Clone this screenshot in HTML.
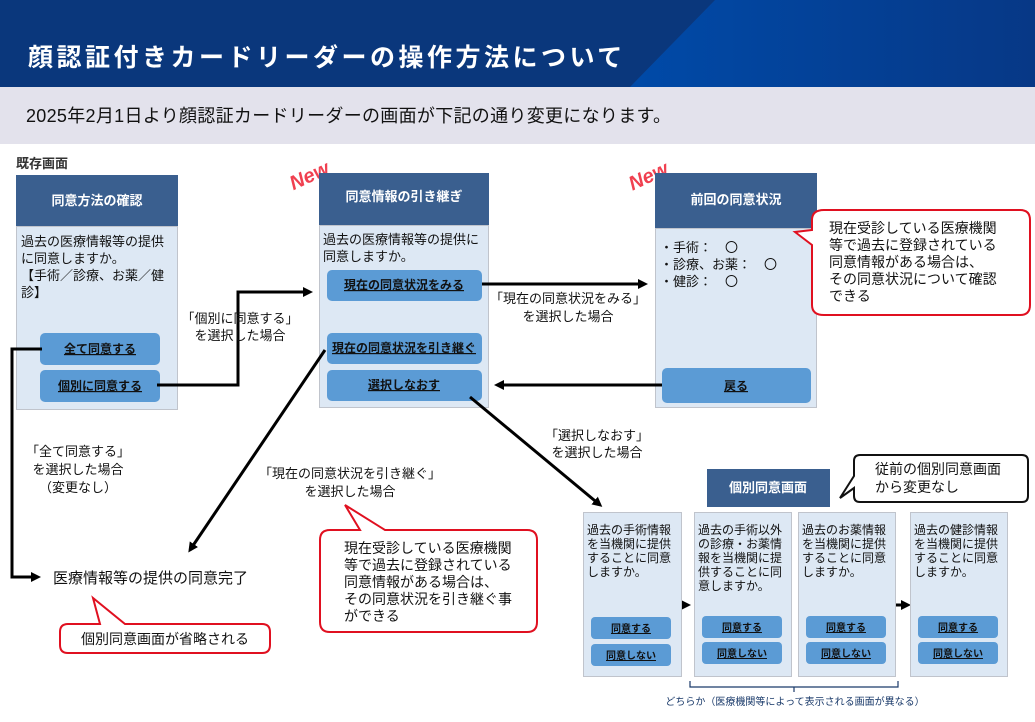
<!DOCTYPE html>
<html><head><meta charset="utf-8"><style>
html,body{margin:0;padding:0;background:#fff}
svg text{font-family:"Liberation Sans","Noto Sans CJK JP",sans-serif}
</style></head><body>
<svg width="1035" height="717" viewBox="0 0 1035 717" xmlns="http://www.w3.org/2000/svg">
<defs>
<marker id="ah" markerWidth="10" markerHeight="10" refX="7" refY="5" orient="auto" markerUnits="userSpaceOnUse">
<path d="M0,0 L10,5 L0,10 z" fill="#000"/></marker>
<linearGradient id="hg" x1="0" x2="1" y1="0" y2="0"><stop offset="0" stop-color="#004aa8"/><stop offset="1" stop-color="#073886"/></linearGradient>
</defs>
<!-- header -->
<rect x="0" y="0" width="1035" height="87" fill="#0a377c"/>
<polygon points="630,87 715,0 1035,0 1035,87" fill="url(#hg)"/>
<text x="28" y="66" font-size="25" font-weight="bold" fill="#fff" letter-spacing="3.5">顔認証付きカードリーダーの操作方法について</text>
<rect x="0" y="87" width="1035" height="57" fill="#e3e2ec"/>
<text x="26" y="122" font-size="18" fill="#111" letter-spacing="0.3">2025年2月1日より顔認証カードリーダーの画面が下記の通り変更になります。</text>
<text x="16" y="168" font-size="13" font-weight="bold" fill="#333">既存画面</text>
<text x="288" y="184" font-size="20" font-weight="bold" fill="#f04050" font-style="italic" transform="rotate(-25 305 175)">New</text>
<text x="627" y="184" font-size="20" font-weight="bold" fill="#f04050" font-style="italic" transform="rotate(-25 645 175)">New</text>

<!-- box1 -->
<rect x="16" y="175" width="162" height="51" fill="#3a5f8f"/>
<text x="97" y="205" font-size="13" font-weight="bold" fill="#fff" text-anchor="middle">同意方法の確認</text>
<rect x="16.5" y="226.5" width="161" height="183" fill="#dde8f4" stroke="#c0c4cc"/>
<g font-size="13" fill="#111"><text x="21" y="246">過去の医療情報等の提供</text><text x="21" y="263">に同意しますか。</text><text x="21" y="280">【手術／診療、お薬／健</text><text x="21" y="297">診】</text></g>
<rect x="40" y="333" width="120" height="32" rx="5" fill="#5b9bd5"/>
<text x="100" y="353" font-size="12" font-weight="bold" text-anchor="middle" text-decoration="underline" fill="#111">全て同意する</text>
<rect x="40" y="370" width="120" height="32" rx="5" fill="#5b9bd5"/>
<text x="100" y="390" font-size="12" font-weight="bold" text-anchor="middle" text-decoration="underline" fill="#111">個別に同意する</text>

<!-- box2 -->
<rect x="319" y="173" width="170" height="52" fill="#3a5f8f"/>
<text x="404" y="201" font-size="13" font-weight="bold" fill="#fff" text-anchor="middle">同意情報の引き継ぎ</text>
<rect x="319.5" y="225.5" width="169" height="182" fill="#dde8f4" stroke="#c0c4cc"/>
<g font-size="13" fill="#111"><text x="323" y="244">過去の医療情報等の提供に</text><text x="323" y="261">同意しますか。</text></g>
<rect x="327" y="270" width="155" height="31" rx="5" fill="#5b9bd5"/>
<text x="404" y="289" font-size="12" font-weight="bold" text-anchor="middle" text-decoration="underline" fill="#111">現在の同意状況をみる</text>
<rect x="327" y="333" width="155" height="31" rx="5" fill="#5b9bd5"/>
<text x="404" y="352" font-size="12" font-weight="bold" text-anchor="middle" text-decoration="underline" fill="#111">現在の同意状況を引き継ぐ</text>
<rect x="327" y="370" width="155" height="31" rx="5" fill="#5b9bd5"/>
<text x="404" y="389" font-size="12" font-weight="bold" text-anchor="middle" text-decoration="underline" fill="#111">選択しなおす</text>

<!-- box3 -->
<rect x="655" y="173" width="162" height="55" fill="#3a5f8f"/>
<text x="736" y="204" font-size="13" font-weight="bold" fill="#fff" text-anchor="middle">前回の同意状況</text>
<rect x="655.5" y="228.5" width="161" height="179" fill="#dde8f4" stroke="#c0c4cc"/>
<g font-size="13" fill="#111"><text x="660" y="252">・手術：　〇</text><text x="660" y="269">・診療、お薬：　〇</text><text x="660" y="286">・健診：　〇</text></g>
<rect x="662" y="368" width="149" height="35" rx="5" fill="#5b9bd5"/>
<text x="736" y="390" font-size="12" font-weight="bold" text-anchor="middle" text-decoration="underline" fill="#111">戻る</text>

<!-- red callout right -->
<path d="M824,210 H1020 Q1030,210 1030,220 V305 Q1030,315 1020,315 H824 Q812,315 812,305 V245 L795,232 L812,230 V220 Q812,210 824,210 z" fill="#fff" stroke="#e01020" stroke-width="2"/>
<g font-size="14" fill="#111"><text x="829" y="233">現在受診している医療機関</text><text x="829" y="250">等で過去に登録されている</text><text x="829" y="267">同意情報がある場合は、</text><text x="829" y="284">その同意状況について確認</text><text x="829" y="301">できる</text></g>

<!-- arrows -->
<g stroke="#000" stroke-width="3" fill="none">
<polyline points="157,385 238,385 238,292 310,292" marker-end="url(#ah)"/>
<line x1="482" y1="284" x2="645" y2="284" marker-end="url(#ah)"/>
<line x1="662" y1="385" x2="497" y2="385" marker-end="url(#ah)"/>
<line x1="470" y1="397" x2="600" y2="505" marker-end="url(#ah)"/>
<line x1="325" y1="350" x2="190" y2="550" marker-end="url(#ah)"/>
<polyline points="42,349 12,349 12,577 38,577" marker-end="url(#ah)"/>
<line x1="674" y1="605" x2="688" y2="605" marker-end="url(#ah)"/>
<line x1="893" y1="605" x2="908" y2="605" marker-end="url(#ah)"/>
</g>
<g font-size="13" fill="#111" text-anchor="middle">
<text x="240" y="323">「個別に同意する」</text><text x="240" y="340">を選択した場合</text>
<text x="568" y="303">「現在の同意状況をみる」</text><text x="568" y="321">を選択した場合</text>
<text x="597" y="440">「選択しなおす」</text><text x="597" y="457">を選択した場合</text>
<text x="350" y="478">「現在の同意状況を引き継ぐ」</text><text x="350" y="496">を選択した場合</text>
<text x="78" y="456">「全て同意する」</text><text x="78" y="474">を選択した場合</text><text x="78" y="492">（変更なし）</text>
</g>
<text x="53" y="583" font-size="15" fill="#111">医療情報等の提供の同意完了</text>

<!-- red callout bottom-left -->
<path d="M68,624 H100 L93,598 L125,624 H262 Q270,624 270,632 V645 Q270,653 262,653 H68 Q60,653 60,645 V632 Q60,624 68,624 z" fill="#fff" stroke="#e01020" stroke-width="2"/>
<text x="165" y="644" font-size="14" fill="#111" text-anchor="middle">個別同意画面が省略される</text>

<!-- red callout center -->
<path d="M330,530 H360 L345,505 L385,530 H527 Q537,530 537,540 V622 Q537,632 527,632 H330 Q320,632 320,622 V540 Q320,530 330,530 z" fill="#fff" stroke="#e01020" stroke-width="2"/>
<g font-size="14" fill="#111"><text x="344" y="553">現在受診している医療機関</text><text x="344" y="570">等で過去に登録されている</text><text x="344" y="587">同意情報がある場合は、</text><text x="344" y="604">その同意状況を引き継ぐ事</text><text x="344" y="621">ができる</text></g>

<!-- individual consent -->
<rect x="707" y="469" width="123" height="38" fill="#3a5f8f"/>
<text x="768" y="492" font-size="13" font-weight="bold" fill="#fff" text-anchor="middle">個別同意画面</text>
<path d="M860,455 H1022 Q1028,455 1028,461 V496 Q1028,502 1022,502 H860 Q854,502 854,496 V488 L840,498 L854,476 V461 Q854,455 860,455 z" fill="#fff" stroke="#111" stroke-width="2"/>
<g font-size="14" fill="#111"><text x="875" y="474">従前の個別同意画面</text><text x="875" y="492">から変更なし</text></g>

<g fill="#dde8f4" stroke="#c0c4cc">
<rect x="583.5" y="512.5" width="98" height="164"/>
<rect x="694.5" y="512.5" width="97" height="164"/>
<rect x="798.5" y="512.5" width="97" height="164"/>
<rect x="910.5" y="512.5" width="97" height="164"/>
</g>
<g font-size="12" fill="#111">
<text x="587" y="534">過去の手術情報</text><text x="587" y="548">を当機関に提供</text><text x="587" y="562">することに同意</text><text x="587" y="576">しますか。</text>
<text x="698" y="534">過去の手術以外</text><text x="698" y="548">の診療・お薬情</text><text x="698" y="562">報を当機関に提</text><text x="698" y="576">供することに同</text><text x="698" y="590">意しますか。</text>
<text x="802" y="534">過去のお薬情報</text><text x="802" y="548">を当機関に提供</text><text x="802" y="562">することに同意</text><text x="802" y="576">しますか。</text>
<text x="914" y="534">過去の健診情報</text><text x="914" y="548">を当機関に提供</text><text x="914" y="562">することに同意</text><text x="914" y="576">しますか。</text>
</g>
<g fill="#5b9bd5">
<rect x="591" y="617" width="80" height="22" rx="4"/><rect x="591" y="644" width="80" height="22" rx="4"/>
<rect x="702" y="616" width="80" height="22" rx="4"/><rect x="702" y="642" width="80" height="22" rx="4"/>
<rect x="806" y="616" width="80" height="22" rx="4"/><rect x="806" y="642" width="80" height="22" rx="4"/>
<rect x="918" y="616" width="80" height="22" rx="4"/><rect x="918" y="642" width="80" height="22" rx="4"/>
</g>
<g font-size="10" font-weight="bold" fill="#111" text-anchor="middle" text-decoration="underline">
<text x="631" y="632">同意する</text><text x="631" y="659">同意しない</text>
<text x="742" y="631">同意する</text><text x="742" y="657">同意しない</text>
<text x="846" y="631">同意する</text><text x="846" y="657">同意しない</text>
<text x="958" y="631">同意する</text><text x="958" y="657">同意しない</text>
</g>
<path d="M690,681 V687 H898 V681 M794,687 V692" stroke="#1a3a6a" stroke-width="1.2" fill="none"/>
<text x="795" y="705" font-size="10" fill="#1a3a6a" text-anchor="middle">どちらか（医療機関等によって表示される画面が異なる）</text>
</svg>
</body></html>
